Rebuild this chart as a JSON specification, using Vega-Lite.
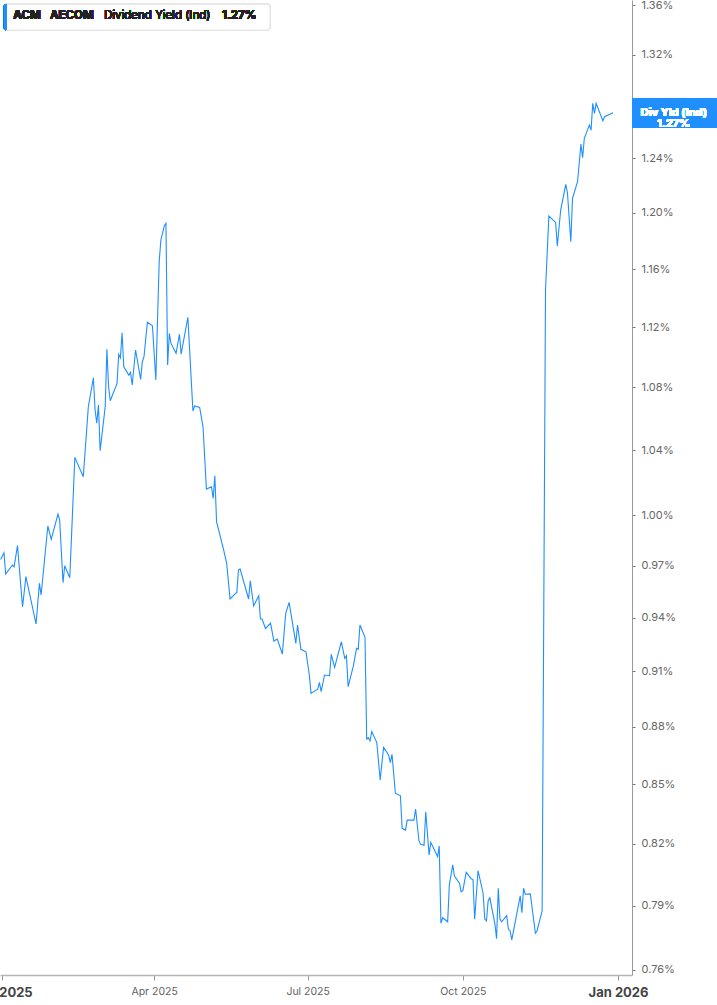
{
  "$schema": "https://vega.github.io/schema/vega-lite/v6.json",
  "width": 632,
  "height": 975,
  "autosize": {"type": "none"},
  "padding": {"left": 0, "top": 0, "right": 85, "bottom": 30},
  "background": "white",
  "config": {
    "font": "Inter",
    "view": {"stroke": null}
  },
  "data": {
    "values": [
      {"date": "2024-12-31", "v": 0.9736},
      {"date": "2025-01-02", "v": 0.9775},
      {"date": "2025-01-03", "v": 0.9650},
      {"date": "2025-01-07", "v": 0.9703},
      {"date": "2025-01-08", "v": 0.9693},
      {"date": "2025-01-10", "v": 0.9817},
      {"date": "2025-01-13", "v": 0.9462},
      {"date": "2025-01-15", "v": 0.9635},
      {"date": "2025-01-21", "v": 0.9364},
      {"date": "2025-01-23", "v": 0.9596},
      {"date": "2025-01-24", "v": 0.9529},
      {"date": "2025-01-28", "v": 0.9934},
      {"date": "2025-01-30", "v": 0.9854},
      {"date": "2025-02-03", "v": 1.0006},
      {"date": "2025-02-04", "v": 0.9970},
      {"date": "2025-02-06", "v": 0.9600},
      {"date": "2025-02-07", "v": 0.9699},
      {"date": "2025-02-10", "v": 0.9629},
      {"date": "2025-02-13", "v": 1.0354},
      {"date": "2025-02-18", "v": 1.0234},
      {"date": "2025-02-21", "v": 1.0675},
      {"date": "2025-02-24", "v": 1.0863},
      {"date": "2025-02-25", "v": 1.0654},
      {"date": "2025-02-26", "v": 1.0569},
      {"date": "2025-02-27", "v": 1.0686},
      {"date": "2025-02-28", "v": 1.0396},
      {"date": "2025-03-03", "v": 1.0675},
      {"date": "2025-03-04", "v": 1.1051},
      {"date": "2025-03-05", "v": 1.0805},
      {"date": "2025-03-06", "v": 1.0714},
      {"date": "2025-03-10", "v": 1.0827},
      {"date": "2025-03-11", "v": 1.1018},
      {"date": "2025-03-12", "v": 1.0995},
      {"date": "2025-03-13", "v": 1.1162},
      {"date": "2025-03-14", "v": 1.0936},
      {"date": "2025-03-17", "v": 1.0881},
      {"date": "2025-03-18", "v": 1.0899},
      {"date": "2025-03-19", "v": 1.0816},
      {"date": "2025-03-21", "v": 1.1047},
      {"date": "2025-03-24", "v": 1.0853},
      {"date": "2025-03-25", "v": 1.0969},
      {"date": "2025-03-26", "v": 1.1002},
      {"date": "2025-03-28", "v": 1.1233},
      {"date": "2025-03-31", "v": 1.1210},
      {"date": "2025-04-02", "v": 1.0849},
      {"date": "2025-04-04", "v": 1.1651},
      {"date": "2025-04-05", "v": 1.1805},
      {"date": "2025-04-07", "v": 1.1905},
      {"date": "2025-04-08", "v": 1.1924},
      {"date": "2025-04-09", "v": 1.0947},
      {"date": "2025-04-10", "v": 1.1158},
      {"date": "2025-04-11", "v": 1.1091},
      {"date": "2025-04-14", "v": 1.1025},
      {"date": "2025-04-16", "v": 1.1152},
      {"date": "2025-04-17", "v": 1.1020},
      {"date": "2025-04-21", "v": 1.1267},
      {"date": "2025-04-24", "v": 1.0648},
      {"date": "2025-04-25", "v": 1.0680},
      {"date": "2025-04-28", "v": 1.0671},
      {"date": "2025-04-30", "v": 1.0545},
      {"date": "2025-05-02", "v": 1.0158},
      {"date": "2025-05-05", "v": 1.0172},
      {"date": "2025-05-06", "v": 1.0101},
      {"date": "2025-05-07", "v": 1.0240},
      {"date": "2025-05-08", "v": 0.9960},
      {"date": "2025-05-12", "v": 0.9801},
      {"date": "2025-05-14", "v": 0.9713},
      {"date": "2025-05-16", "v": 0.9506},
      {"date": "2025-05-19", "v": 0.9535},
      {"date": "2025-05-20", "v": 0.9544},
      {"date": "2025-05-21", "v": 0.9674},
      {"date": "2025-05-22", "v": 0.9679},
      {"date": "2025-05-27", "v": 0.9506},
      {"date": "2025-05-28", "v": 0.9611},
      {"date": "2025-05-30", "v": 0.9466},
      {"date": "2025-06-02", "v": 0.9525},
      {"date": "2025-06-03", "v": 0.9392},
      {"date": "2025-06-04", "v": 0.9392},
      {"date": "2025-06-06", "v": 0.9339},
      {"date": "2025-06-09", "v": 0.9368},
      {"date": "2025-06-11", "v": 0.9268},
      {"date": "2025-06-13", "v": 0.9279},
      {"date": "2025-06-16", "v": 0.9196},
      {"date": "2025-06-18", "v": 0.9424},
      {"date": "2025-06-20", "v": 0.9487},
      {"date": "2025-06-24", "v": 0.9255},
      {"date": "2025-06-25", "v": 0.9358},
      {"date": "2025-06-27", "v": 0.9222},
      {"date": "2025-06-30", "v": 0.9208},
      {"date": "2025-07-02", "v": 0.9080},
      {"date": "2025-07-03", "v": 0.8980},
      {"date": "2025-07-07", "v": 0.9003},
      {"date": "2025-07-08", "v": 0.9040},
      {"date": "2025-07-09", "v": 0.8989},
      {"date": "2025-07-11", "v": 0.9080},
      {"date": "2025-07-14", "v": 0.9076},
      {"date": "2025-07-15", "v": 0.9194},
      {"date": "2025-07-17", "v": 0.9122},
      {"date": "2025-07-21", "v": 0.9264},
      {"date": "2025-07-23", "v": 0.9172},
      {"date": "2025-07-24", "v": 0.9186},
      {"date": "2025-07-25", "v": 0.9016},
      {"date": "2025-07-28", "v": 0.9126},
      {"date": "2025-07-30", "v": 0.9227},
      {"date": "2025-07-31", "v": 0.9222},
      {"date": "2025-08-01", "v": 0.9358},
      {"date": "2025-08-04", "v": 0.9289},
      {"date": "2025-08-05", "v": 0.8736},
      {"date": "2025-08-06", "v": 0.8743},
      {"date": "2025-08-07", "v": 0.8726},
      {"date": "2025-08-08", "v": 0.8775},
      {"date": "2025-08-11", "v": 0.8717},
      {"date": "2025-08-13", "v": 0.8523},
      {"date": "2025-08-15", "v": 0.8692},
      {"date": "2025-08-18", "v": 0.8652},
      {"date": "2025-08-19", "v": 0.8612},
      {"date": "2025-08-20", "v": 0.8656},
      {"date": "2025-08-22", "v": 0.8455},
      {"date": "2025-08-25", "v": 0.8442},
      {"date": "2025-08-26", "v": 0.8278},
      {"date": "2025-08-28", "v": 0.8269},
      {"date": "2025-08-29", "v": 0.8319},
      {"date": "2025-09-02", "v": 0.8319},
      {"date": "2025-09-03", "v": 0.8375},
      {"date": "2025-09-05", "v": 0.8215},
      {"date": "2025-09-06", "v": 0.8198},
      {"date": "2025-09-08", "v": 0.8194},
      {"date": "2025-09-09", "v": 0.8361},
      {"date": "2025-09-11", "v": 0.8146},
      {"date": "2025-09-12", "v": 0.8208},
      {"date": "2025-09-16", "v": 0.8138},
      {"date": "2025-09-17", "v": 0.8190},
      {"date": "2025-09-18", "v": 0.7817},
      {"date": "2025-09-19", "v": 0.7843},
      {"date": "2025-09-22", "v": 0.7824},
      {"date": "2025-09-23", "v": 0.8000},
      {"date": "2025-09-25", "v": 0.8097},
      {"date": "2025-09-26", "v": 0.8043},
      {"date": "2025-09-29", "v": 0.8008},
      {"date": "2025-09-30", "v": 0.7967},
      {"date": "2025-10-01", "v": 0.7972},
      {"date": "2025-10-03", "v": 0.8061},
      {"date": "2025-10-06", "v": 0.8029},
      {"date": "2025-10-07", "v": 0.8027},
      {"date": "2025-10-08", "v": 0.7836},
      {"date": "2025-10-10", "v": 0.8069},
      {"date": "2025-10-13", "v": 0.7960},
      {"date": "2025-10-14", "v": 0.7837},
      {"date": "2025-10-15", "v": 0.7828},
      {"date": "2025-10-16", "v": 0.7924},
      {"date": "2025-10-17", "v": 0.7938},
      {"date": "2025-10-20", "v": 0.7814},
      {"date": "2025-10-21", "v": 0.7745},
      {"date": "2025-10-22", "v": 0.7984},
      {"date": "2025-10-23", "v": 0.7837},
      {"date": "2025-10-24", "v": 0.7824},
      {"date": "2025-10-27", "v": 0.7853},
      {"date": "2025-10-28", "v": 0.7789},
      {"date": "2025-10-29", "v": 0.7782},
      {"date": "2025-10-30", "v": 0.7739},
      {"date": "2025-11-03", "v": 0.7904},
      {"date": "2025-11-04", "v": 0.7947},
      {"date": "2025-11-05", "v": 0.7867},
      {"date": "2025-11-06", "v": 0.7984},
      {"date": "2025-11-07", "v": 0.7955},
      {"date": "2025-11-10", "v": 0.7957},
      {"date": "2025-11-13", "v": 0.7770},
      {"date": "2025-11-14", "v": 0.7782},
      {"date": "2025-11-17", "v": 0.7875},
      {"date": "2025-11-19", "v": 1.1454},
      {"date": "2025-11-21", "v": 1.1977},
      {"date": "2025-11-25", "v": 1.1931},
      {"date": "2025-11-26", "v": 1.1762},
      {"date": "2025-11-28", "v": 1.2020},
      {"date": "2025-12-01", "v": 1.2208},
      {"date": "2025-12-02", "v": 1.2146},
      {"date": "2025-12-04", "v": 1.1792},
      {"date": "2025-12-05", "v": 1.2105},
      {"date": "2025-12-08", "v": 1.2227},
      {"date": "2025-12-10", "v": 1.2508},
      {"date": "2025-12-11", "v": 1.2405},
      {"date": "2025-12-12", "v": 1.2551},
      {"date": "2025-12-15", "v": 1.2652},
      {"date": "2025-12-16", "v": 1.2614},
      {"date": "2025-12-17", "v": 1.2819},
      {"date": "2025-12-18", "v": 1.2742},
      {"date": "2025-12-19", "v": 1.2819},
      {"date": "2025-12-23", "v": 1.2685},
      {"date": "2025-12-24", "v": 1.2716},
      {"date": "2025-12-29", "v": 1.2747}
    ]
  },
  "encoding": {
    "x": {
      "field": "date",
      "type": "temporal",
      "title": null,
      "scale": {
        "type": "utc",
        "domain": [
          {"year": 2024, "month": 12, "date": 30, "hours": 15, "minutes": 17, "utc": true},
          {"year": 2026, "month": 1, "date": 9, "hours": 6, "minutes": 30, "utc": true}
        ]
      },
      "axis": {
        "values": [
          {"year": 2025, "month": 1, "date": 1, "utc": true},
          {"year": 2025, "month": 4, "date": 1, "utc": true},
          {"year": 2025, "month": 7, "date": 1, "utc": true},
          {"year": 2025, "month": 10, "date": 1, "utc": true},
          {"year": 2026, "month": 1, "date": 1, "utc": true}
        ],
        "labelExpr": "utcFormat(datum.value, '%b %Y')",
        "grid": false,
        "domainColor": "#b5b5b5",
        "domainWidth": 1.5,
        "tickColor": "#9a9a9a",
        "tickSize": 5,
        "labelPadding": 6,
        "labelFlush": false,
        "labelOverlap": false,
        "labelBound": false,
        "labelFont": "Inter",
        "labelFontSize": {"condition": {"test": "utcmonth(datum.value) === 0", "value": 13}, "value": 10.5},
        "labelFontWeight": {"condition": {"test": "utcmonth(datum.value) === 0", "value": "bold"}, "value": "normal"},
        "labelColor": {"condition": {"test": "utcmonth(datum.value) === 0", "value": "#444444"}, "value": "#5f5f5f"}
      }
    },
    "y": {
      "field": "v",
      "type": "quantitative",
      "title": null,
      "scale": {"type": "log", "domain": [0.75768, 1.3644], "nice": false},
      "axis": {
        "orient": "right",
        "values": [0.76, 0.79, 0.82, 0.85, 0.88, 0.91, 0.94, 0.97, 1.0, 1.04, 1.08, 1.12, 1.16, 1.2, 1.24, 1.28, 1.32, 1.36],
        "labelExpr": "format(datum.value, '.2f') + '%'",
        "grid": false,
        "domainColor": "#9a9a9a",
        "tickColor": "#777777",
        "tickSize": 3,
        "labelPadding": 6,
        "labelColor": "#666666",
        "labelFontSize": 11,
        "labelFont": "Inter",
        "labelBound": false,
        "labelFlush": false,
        "labelOverlap": false
      }
    }
  },
  "layer": [
    {
      "mark": {"type": "line", "color": "#1f8fff", "strokeWidth": 1.1}
    },
    {
      "mark": {"type": "rect", "fill": "white", "stroke": "#e3e3e3", "strokeWidth": 1, "cornerRadius": 3},
      "encoding": {
        "x": {"datum": {"year": 2025, "month": 1, "date": 2, "utc": true}},
        "x2": {"datum": {"year": 2025, "month": 6, "date": 8, "hours": 17, "utc": true}},
        "y": {"datum": 1.3610},
        "y2": {"datum": 1.3398}
      }
    },
    {
      "mark": {"type": "rect", "fill": "#1f8fff", "cornerRadius": 1.5},
      "encoding": {
        "x": {"datum": {"year": 2025, "month": 1, "date": 2, "utc": true}},
        "x2": {"datum": {"year": 2025, "month": 1, "date": 3, "hours": 18, "utc": true}},
        "y": {"datum": 1.3610},
        "y2": {"datum": 1.3398}
      }
    },
    {
      "mark": {"type": "text", "text": "ACM", "align": "left", "baseline": "middle", "font": "Inter", "fontSize": 11.5, "fontWeight": "bold", "color": "#222222"},
      "encoding": {
        "x": {"datum": {"year": 2025, "month": 1, "date": 7, "hours": 12, "minutes": 30, "utc": true}},
        "y": {"datum": 1.3512}
      }
    },
    {
      "mark": {"type": "text", "text": "AECOM", "align": "left", "baseline": "middle", "font": "Inter", "fontSize": 11.5, "fontWeight": "bold", "color": "#222222"},
      "encoding": {
        "x": {"datum": {"year": 2025, "month": 1, "date": 29, "hours": 6, "minutes": 30, "utc": true}},
        "y": {"datum": 1.3512}
      }
    },
    {
      "mark": {"type": "text", "text": "Dividend Yield (Ind)", "align": "left", "baseline": "middle", "font": "Inter", "fontSize": 11.5, "fontWeight": "normal", "color": "#222222"},
      "encoding": {
        "x": {"datum": {"year": 2025, "month": 3, "date": 2, "hours": 6, "minutes": 45, "utc": true}},
        "y": {"datum": 1.3512}
      }
    },
    {
      "mark": {"type": "text", "text": "1.27%", "align": "left", "baseline": "middle", "font": "Inter", "fontSize": 11.5, "fontWeight": "bold", "color": "#222222"},
      "encoding": {
        "x": {"datum": {"year": 2025, "month": 5, "date": 11, "hours": 5, "minutes": 45, "utc": true}},
        "y": {"datum": 1.3512}
      }
    },
    {
      "mark": {"type": "rect", "fill": "#1f8fff"},
      "encoding": {
        "x": {"datum": {"year": 2026, "month": 1, "date": 9, "hours": 6, "minutes": 30, "utc": true}},
        "x2": {"datum": {"year": 2026, "month": 3, "date": 5, "utc": true}},
        "y": {"datum": 1.2857},
        "y2": {"datum": 1.2632}
      }
    },
    {
      "mark": {"type": "text", "text": ["Div Yld (Ind)", "1.27%"], "align": "center", "baseline": "middle", "lineHeight": 11, "font": "Inter", "fontSize": 11, "fontWeight": "bold", "color": "white"},
      "encoding": {
        "x": {"datum": {"year": 2026, "month": 2, "date": 3, "utc": true}},
        "y": {"datum": 1.2744}
      }
    }
  ]
}
